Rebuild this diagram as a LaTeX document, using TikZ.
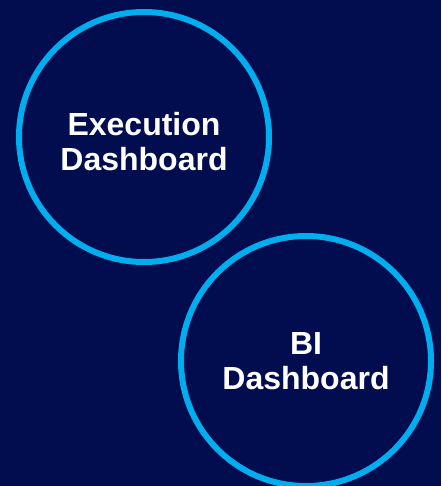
\documentclass[tikz,border=0pt]{standalone}
\usepackage{fontspec}
\setmainfont{Liberation Sans}
\definecolor{bgnavy}{RGB}{1,13,79}
\definecolor{ringblue}{RGB}{0,174,239}
\begin{document}
\begin{tikzpicture}[x=1pt,y=-1pt,
  ring/.style={circle,draw=ringblue,line width=6pt,minimum size=250pt,inner sep=0pt},
  lbl/.style={text=white,align=center,inner sep=0pt,font=\fontsize{32}{35}\selectfont\bfseries}]
\useasboundingbox (0,0) rectangle (441,486);
\fill[bgnavy] (0,0) rectangle (441,486);
\begin{scope}
\clip (0,0) rectangle (441,486);
\node[ring] (c1) at (144,137) {};
\node[ring] (c2) at (306,361) {};
\end{scope}
\node[lbl] (t1) at (144,142) {Execution\\Dashboard};
\node[lbl] (t2) at (306,361.5) {BI\\Dashboard};
\end{tikzpicture}
\end{document}
